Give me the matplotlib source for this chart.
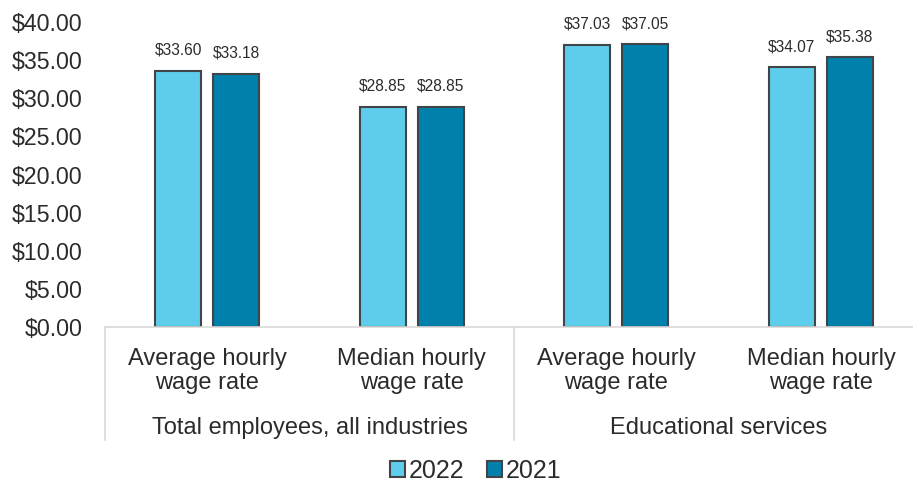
import numpy as np
import matplotlib.pyplot as plt

plt.rcParams['font.family'] = ['Liberation Sans', 'DejaVu Sans']

# data
measures = ["Average hourly\nwage rate", "Median hourly\nwage rate",
            "Average hourly\nwage rate", "Median hourly\nwage rate"]
groups = ["Total employees, all industries", "Educational services"]
series_names = ["2022", "2021"]
wages_2022 = [33.60, 28.85, 37.03, 34.07]
wages_2021 = [33.18, 28.85, 37.05, 35.38]
yticks = [0, 5, 10, 15, 20, 25, 30, 35, 40]

c_light = "#5DCDEB"
c_dark = "#0080AB"
edge = "#3F4548"
txt = "#2B2B2B"
sep = "#D9D9D9"

W, H = 913, 484
fig = plt.figure(figsize=(W / 100, H / 100), dpi=100)
ax = fig.add_axes([105 / W, (H - 327) / H, (913 - 105) / W, 305 / H])

x = np.arange(len(measures))
off = 0.142
bw = 0.225
b1 = ax.bar(x - off, wages_2022, bw, color=c_light, edgecolor=edge, linewidth=1.5,
            label=series_names[0])
b2 = ax.bar(x + off, wages_2021, bw, color=c_dark, edgecolor=edge, linewidth=1.5,
            label=series_names[1])

for bars in (b1, b2):
    for b in bars:
        ax.annotate("${:.2f}".format(b.get_height()),
                    (b.get_x() + b.get_width() / 2, b.get_height()),
                    xytext=(0, 9.5), textcoords="offset points",
                    ha="center", va="bottom", fontsize=11.2, color=txt)

ax.set_xlim(-0.5, 3.45)
ax.set_ylim(0, 40)
ax.set_yticks(yticks)
ax.set_yticklabels(["${:.2f}".format(v) for v in yticks], fontsize=16.7, color=txt)
ax.tick_params(axis="y", length=0, pad=16)
ax.set_xticks([])

for s in ["left", "right", "top"]:
    ax.spines[s].set_visible(False)
ax.spines["bottom"].set_color(sep)
ax.spines["bottom"].set_linewidth(1.2)

# two-level category labels
trans = ax.get_xaxis_transform()
to_ax = lambda py: -(py - 327) / 305.0
for i, m in enumerate(measures):
    ax.text(i, to_ax(371), m, transform=trans, ha="center", va="center",
            fontsize=17, color=txt, linespacing=1.15)
for j, g in enumerate(groups):
    ax.text(2 * j + 0.5, to_ax(428), g, transform=trans, ha="center", va="center",
            fontsize=17, color=txt)
for xs in [-0.5, 1.5, 3.5]:
    ax.plot([xs, xs], [0, to_ax(440)], transform=trans, color=sep, lw=1.2,
            clip_on=False)

fig.legend(handles=[b1, b2], labels=series_names, loc="center",
           bbox_to_anchor=(476 / W, 1 - 471 / H), ncol=2, frameon=False,
           fontsize=18, handlelength=0.6, handleheight=0.6,
           handletextpad=0.15, columnspacing=0.9, labelcolor=txt)

fig.savefig("out.png", dpi=100)
